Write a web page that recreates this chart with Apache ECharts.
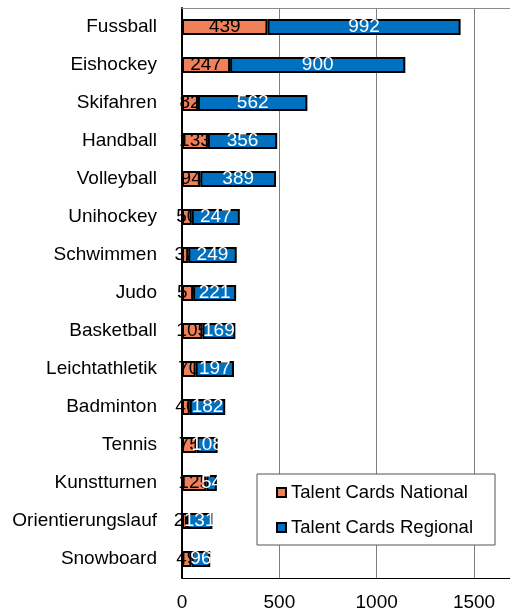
<!DOCTYPE html>
<html>
<head>
<meta charset="utf-8">
<script src="https://cdn.jsdelivr.net/npm/echarts@6/dist/echarts.min.js"></script>
<style>
  html, body { margin: 0; padding: 0; background: #fff; }
  #chart { width: 510px; height: 611px; }
</style>
</head>
<body>
<div id="chart"></div>
<script>
// Sportarten (von oben nach unten)
const sports = ['Fussball', 'Eishockey', 'Skifahren', 'Handball', 'Volleyball', 'Unihockey', 'Schwimmen',
  'Judo', 'Basketball', 'Leichtathletik', 'Badminton', 'Tennis', 'Kunstturnen', 'Orientierungslauf', 'Snowboard'];
const nationalCards = [439, 247, 82, 133, 94, 50, 32, 57, 105, 70, 40, 75, 125, 25, 49];
const regionalCards = [992, 900, 562, 356, 389, 247, 249, 221, 169, 197, 182, 108, 54, 131, 96];
const seriesNames = ['Talent Cards National', 'Talent Cards Regional'];
const xTicks = [0, 500, 1000, 1500];

const font = 'Arial, "Liberation Sans", sans-serif';
let colors = ['#F0805A', '#0070C0'];
let xMax = 1695; // Achse läuft rechts aus dem Bild

let myChart = echarts.init(document.getElementById('chart'));
let option = {
  animation: false,
  color: colors,
  grid: {
    left: 182,
    right: -2,
    top: 8,
    bottom: 33,
    containLabel: false,
    outerBoundsMode: 'none'
  },
  legend: {
    orient: 'vertical',
    left: 257,
    top: 474,
    padding: [9, 22, 8, 19],
    itemGap: 16,
    itemWidth: 9,
    itemHeight: 9,
    icon: 'rect',
    backgroundColor: '#fff',
    borderColor: '#555',
    borderWidth: 1,
    textStyle: {
      fontFamily: font,
      fontSize: 18.5,
      color: '#000'
    },
    data: seriesNames
  },
  xAxis: [{
    type: 'value',
    min: 0,
    max: xMax,
    interval: 500,
    axisLine: { show: true, lineStyle: { color: '#000', width: 1 } },
    axisTick: { show: false },
    axisLabel: {
      margin: 15,
      fontFamily: font,
      fontSize: 19,
      color: '#000',
      formatter: v => (xTicks.indexOf(v) >= 0 ? String(v) : '')
    },
    splitLine: { showMaxLine: false, lineStyle: { color: '#7f7f7f', width: 1 } }
  }, {
    // nur die obere Rahmenlinie
    type: 'value',
    position: 'top',
    min: 0,
    max: xMax,
    axisLine: { show: true, lineStyle: { color: '#8c8c8c', width: 1 } },
    axisTick: { show: false },
    axisLabel: { show: false },
    splitLine: { show: false }
  }],
  yAxis: {
    type: 'category',
    inverse: true,
    data: sports,
    axisLine: { lineStyle: { color: '#000', width: 2 } },
    axisTick: { length: 5, lineStyle: { color: '#333' } },
    axisLabel: {
      margin: 25,
      fontFamily: font,
      fontSize: 19,
      color: '#000'
    }
  },
  series: [
    {
      name: seriesNames[0],
      type: 'bar',
      stack: 'total',
      barWidth: 16,
      z: 2,
      itemStyle: { borderColor: '#000', borderWidth: 2 },
      label: {
        show: true,
        position: 'inside',
        fontFamily: font,
        fontSize: 19,
        color: '#000'
      },
      data: nationalCards
    },
    {
      name: seriesNames[1],
      type: 'bar',
      stack: 'total',
      barWidth: 16,
      z: 3,
      itemStyle: { borderColor: '#000', borderWidth: 2 },
      label: {
        show: true,
        position: 'inside',
        fontFamily: font,
        fontSize: 19,
        color: '#fff'
      },
      data: regionalCards
    }
  ]
};
myChart.setOption(option, true);
</script>
</body>
</html>
